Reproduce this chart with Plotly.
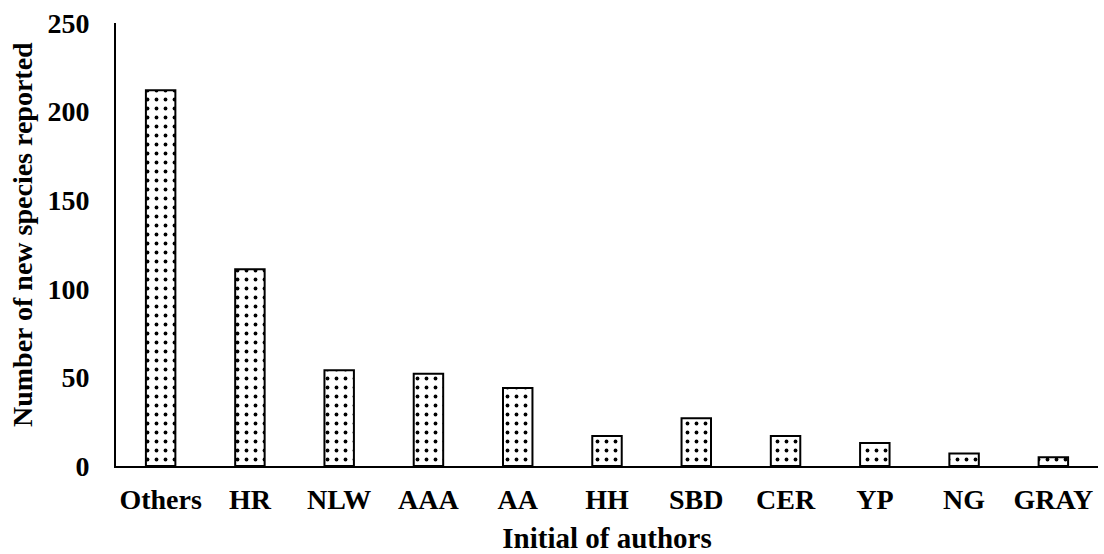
import plotly.graph_objects as go

authors = ["Others", "HR", "NLW", "AAA", "AA", "HH", "SBD", "CER", "YP", "NG", "GRAY"]
species_counts = [212, 111, 54, 52, 44, 17, 27, 17, 13, 7, 5]
y_ticks = [0, 50, 100, 150, 200, 250]

FONT = "Liberation Serif"

fig = go.Figure(
    go.Bar(
        x=authors,
        y=species_counts,
        width=0.33,
        marker=dict(
            color="white",
            line=dict(color="black", width=2),
            pattern=dict(shape=".", fgcolor="black", bgcolor="white", size=9,
                         solidity=0.14, fgopacity=1),
        ),
    )
)

fig.update_layout(
    width=1104,
    height=554,
    paper_bgcolor="white",
    plot_bgcolor="white",
    margin=dict(l=116, r=6, t=23, b=88),
    showlegend=False,
    font=dict(family=FONT, color="black", size=28),
)

fig.update_xaxes(
    showline=True,
    linecolor="black",
    linewidth=2,
    showgrid=False,
    ticks="",
    ticklabelstandoff=7,
    tickfont=dict(family=FONT, size=28, color="black", weight="bold"),
    title=dict(text="<b>Initial of authors</b>", font=dict(family=FONT, size=29), standoff=31),
    automargin=False,
)

fig.update_yaxes(
    range=[0, 250],
    tickvals=y_ticks,
    showline=True,
    linecolor="black",
    linewidth=2,
    showgrid=False,
    zeroline=False,
    ticks="",
    ticklabelstandoff=19,
    tickfont=dict(family=FONT, size=28, color="black", weight="bold"),
    automargin=False,
)

# y-axis title placed as a rotated annotation (slightly above the plot centre, as in the reference)
fig.add_annotation(
    text="<b>Number of new species reported</b>",
    xref="paper", yref="paper",
    x=(22 - 116) / 982, y=(466 - 235) / 443,
    xanchor="center", yanchor="middle",
    textangle=-90, showarrow=False,
    font=dict(family=FONT, size=28, color="black"),
)

fig.write_html("out.html", config={"displayModeBar": False},
               post_script="document.body.style.margin='0';")
